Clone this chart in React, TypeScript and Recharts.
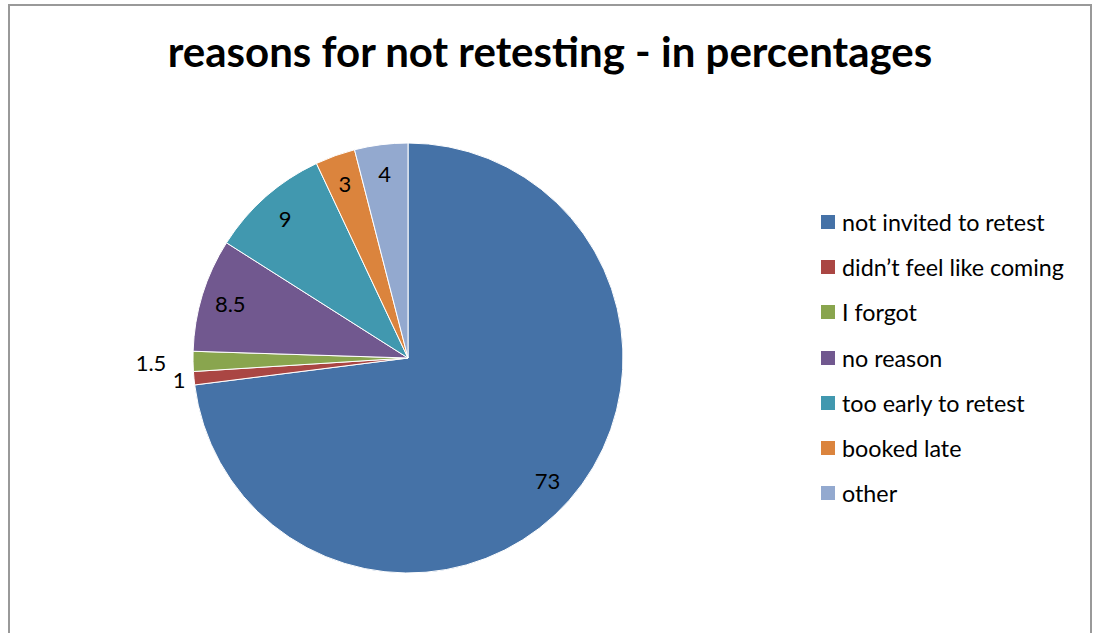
import React from "react";
import { PieChart, Pie, Cell, Legend } from "recharts";

const categories = [
  "not invited to retest",
  "didn\u2019t feel like coming",
  "I forgot",
  "no reason",
  "too early to retest",
  "booked late",
  "other",
];
const values = [73, 1, 1.5, 8.5, 9, 3, 4];
const colors = ["#4572A7", "#AA4643", "#89A54E", "#71588F", "#4198AF", "#DB843D", "#93A9CF"];
const title = "reasons for not retesting - in percentages";

const data = categories.map((name, i) => ({ name, value: values[i] }));

const FONT = "Lato, 'Open Sans', sans-serif";
const RAD = Math.PI / 180;

const renderLabel = (props: any) => {
  const { cx, cy, midAngle, outerRadius, value } = props;
  let r = outerRadius * 0.865;
  if (value < 2) {
    r = outerRadius + (value >= 1.5 ? 42 : 15);
  }
  const x = cx + r * Math.cos(-midAngle * RAD);
  const y = cy + r * Math.sin(-midAngle * RAD);
  return (
    <text x={x} y={y} fill="#000" fontSize={22} fontFamily={FONT} textAnchor="middle" dominantBaseline="central">
      {value}
    </text>
  );
};

const renderLegend = () => (
  <div style={{ fontFamily: FONT, fontSize: 23.3, color: "#000" }}>
    {data.map((d, i) => (
      <div key={d.name} style={{ display: "flex", alignItems: "center", height: 45.3 }}>
        <span style={{ display: "inline-block", width: 14, height: 14, background: colors[i], marginRight: 7 }} />
        <span style={{ whiteSpace: "nowrap" }}>{d.name}</span>
      </div>
    ))}
  </div>
);

export default function App() {
  return (
    <div style={{ position: "absolute", left: 0, top: 0, width: 1094, height: 633, overflow: "hidden", background: "#fff" }}>
      <div style={{ position: "absolute", left: 8, top: 4, width: 1084, height: 660, border: "2px solid #999", boxSizing: "border-box" }} />
      <div style={{ position: "absolute", left: 0, top: 26, width: 1100, textAlign: "center", fontFamily: FONT, fontWeight: 700, fontSize: 42, color: "#000" }}>
        {title}
      </div>
      <div style={{ position: "absolute", left: 0, top: 0 }}>
        <PieChart width={1094} height={633} margin={{ top: 0, right: 0, bottom: 0, left: 0 }}>
          <Pie
            data={data}
            dataKey="value"
            nameKey="name"
            cx={408}
            cy={358}
            outerRadius={215}
            startAngle={90}
            endAngle={-270}
            stroke="#fff"
            strokeWidth={1}
            label={renderLabel}
            labelLine={false}
            isAnimationActive={false}
          >
            {data.map((d, i) => (
              <Cell key={d.name} fill={colors[i]} />
            ))}
          </Pie>
          <Legend
            layout="vertical"
            content={renderLegend}
            wrapperStyle={{ position: "absolute", left: 821, top: 199, width: 270, bottom: "auto" }}
          />
        </PieChart>
      </div>
    </div>
  );
}
